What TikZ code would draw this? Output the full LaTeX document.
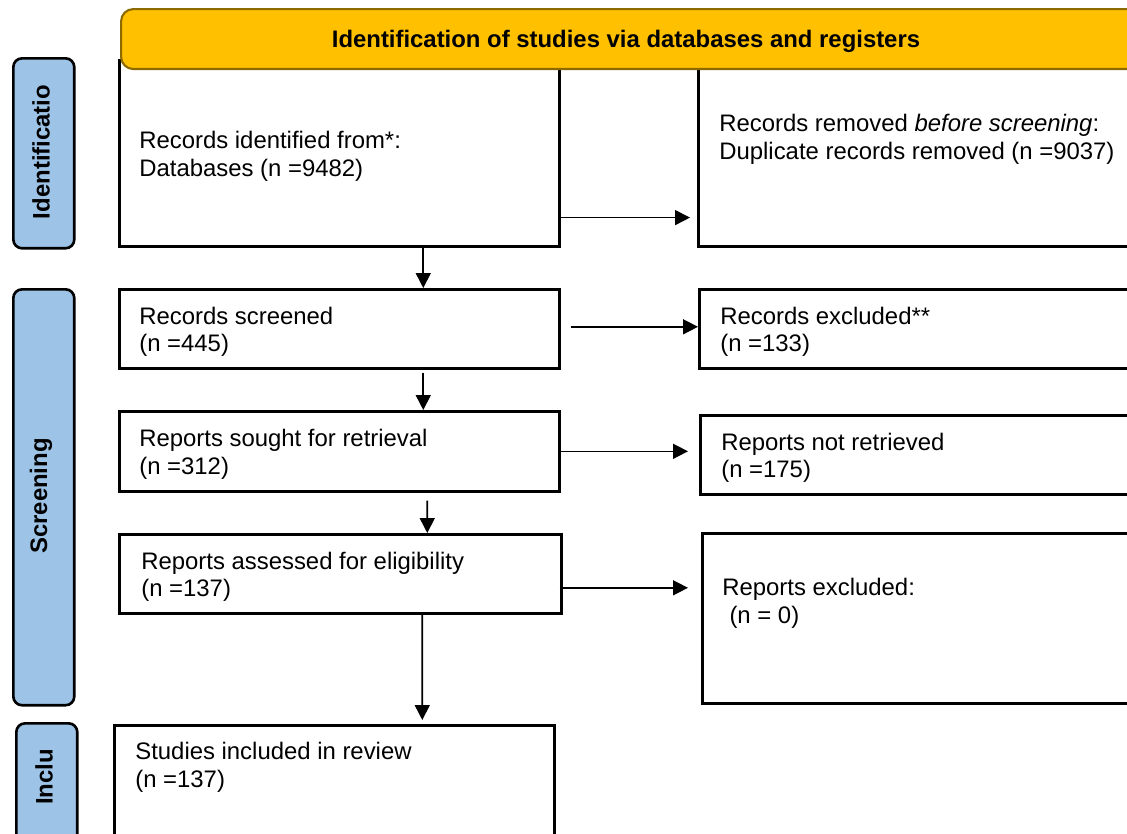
\documentclass[tikz,border=0pt]{standalone}
\usepackage{fontspec}
\setmainfont{Liberation Sans}
\usetikzlibrary{arrows.meta,calc}
\definecolor{headgold}{HTML}{FFC000}
\definecolor{headedge}{HTML}{8C6A00}
\definecolor{phaseblue}{HTML}{9DC3E6}

\begin{document}
\begin{tikzpicture}[
  x=0.02cm, y=-0.02cm,
  box/.style={draw, line width=1.5pt, anchor=north west, inner sep=0pt},
  mainbox/.style={box, minimum width=8.8cm},
  sidebox/.style={box, minimum width=9.4cm},
  txt/.style={anchor=west, inner sep=0pt, align=left, font=\fontsize{13.6}{15.9}\selectfont},
  phase/.style={draw, line width=1.5pt, rounded corners=5pt, fill=phaseblue, anchor=north west, minimum width=1.22cm},
  phasetxt/.style={rotate=90, inner sep=0pt, font=\bfseries\fontsize{13.6}{15}\selectfont},
  arrow/.style={-{Triangle[length=8.5pt,width=8.5pt]}, line width=0.9pt}
]
\useasboundingbox (0,0) rectangle (1127,833);
\clip (0,0) rectangle (1127,833);

\node[phase, minimum height=3.8cm] (ident) at (12,57) {};
\node[phase, minimum height=8.32cm] (screen) at (12,288) {};
\node[phase, minimum height=3cm] (inclu) at (15,722) {};
\node[phasetxt] (tident) at (41,152) {Identificatio};
\node[phasetxt] (tscreen) at (41,496) {Screening};
\node[phasetxt] (tinclu) at (44,777) {Inclu};

\node[mainbox, minimum height=3.72cm] (rid) at (118,59) {};
\node[sidebox, minimum height=3.72cm] (rrm) at (697,59) {};
\node[mainbox, minimum height=1.58cm] (scr) at (118,288) {};
\node[sidebox, minimum height=1.58cm] (exc) at (698,288) {};
\node[mainbox, minimum height=1.6cm] (srt) at (118,410) {};
\node[sidebox, minimum height=1.58cm] (nrt) at (699,414) {};
\node[mainbox, minimum width=8.84cm, minimum height=1.58cm] (asd) at (118,533) {};
\node[sidebox, minimum height=3.4cm] (rex) at (701,532) {};
\node[mainbox, minimum height=3cm] (inc) at (113,724) {};

\node[draw=headedge, line width=1.2pt, fill=headgold, rounded corners=7pt, anchor=north west,
  minimum width=20.6cm, minimum height=1.2cm] (head) at (120,8) {};
\node[inner sep=0pt, font=\bfseries\fontsize{13.6}{15}\selectfont] (thead) at (626,41)
  {Identification of studies via databases and registers};

\node[txt] (trid) at ($(rid.west)+(21,3)$) {Records identified from*:\\Databases (n =9482)};
\node[txt] (trrm) at ($(rrm.west)+(22,-14)$) {Records removed \textit{before screening}:\\Duplicate records removed (n =9037)};
\node[txt] (tscr) at ($(scr.west)+(21,3)$) {Records screened\\(n =445)};
\node[txt] (texc) at ($(exc.west)+(22,3)$) {Records excluded**\\(n =133)};
\node[txt] (tsrt) at ($(srt.west)+(21,3)$) {Reports sought for retrieval\\(n =312)};
\node[txt] (tnrt) at ($(nrt.west)+(22,3)$) {Reports not retrieved\\(n =175)};
\node[txt] (tasd) at ($(asd.west)+(23,3)$) {Reports assessed for eligibility\\(n =137)};
\node[txt] (trex) at ($(rex.west)+(21,-15)$) {Reports excluded:\\\hspace*{0.3em}(n = 0)};
\node[txt] (tinc) at ($(inc.north west)+(22,43)$) {Studies included in review\\(n =137)};

\draw[arrow] ($(rid.south east)+(0,-30)$) -- ($(rrm.south west)+(-7,-30)$);
\draw[arrow] ($(rid.south)+(84,0)$) -- ($(scr.north)+(84,0)$);
\draw[arrow] ($(scr.east)+(10,-2)$) -- ($(exc.west)+(0,-2)$);
\draw[arrow] ($(scr.south)+(84,3)$) -- ($(srt.north)+(84,0)$);
\draw[arrow] (srt.east) -- ($(srt.east -| nrt.west)+(-11,0)$);
\draw[arrow] ($(srt.south)+(88,8)$) -- ($(asd.north)+(87,0)$);
\draw[arrow] ($(asd.east)+(-3,14)$) -- ($(asd.east -| rex.west)+(-13,14)$);
\draw[arrow] ($(asd.south)+(82,-2)$) -- ($(inc.north)+(88,-4)$);
\end{tikzpicture}
\end{document}
